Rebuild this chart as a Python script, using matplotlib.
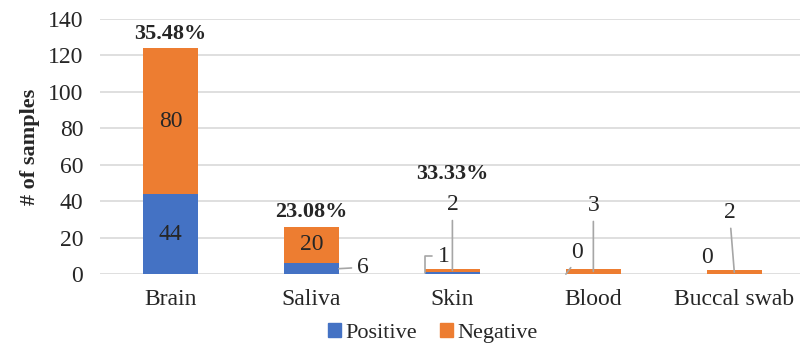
import matplotlib
matplotlib.use("Agg")
import matplotlib.pyplot as plt
import numpy as np
from matplotlib.patches import Patch

plt.rcParams["font.family"] = ["Liberation Serif", "DejaVu Serif"]

categories = ["Brain", "Saliva", "Skin", "Blood", "Buccal swab"]
positive = [44, 6, 1, 0, 0]
negative = [80, 20, 2, 3, 2]

BLUE = "#4472C4"
ORANGE = "#ED7D31"
TEXT = "#262626"
GRID = "#D9D9D9"
LEADER = "#A6A6A6"
PX = 72 / 100  # pixels -> points at dpi 100
FS = 17

# label placement per category: (kind, dx, dy) in pixels from the anchor, None = inside the bar
pos_label = [None, ("right", 24, 1), ("elbow", 19, 17), ("diag", 11, 22), ("free", -27, 17)]
neg_label = [None, None, ("up", 0, 66), ("up", 0, 66), ("up", -4, 60)]
pct_offset = [14, 15, 95, None, None]

fig = plt.figure(figsize=(8.0, 3.51), dpi=100)
ax = fig.add_axes([0.125, 0.219, 0.881, 0.727])

x = np.arange(len(categories))
w = 0.39
pos = np.array(positive)
neg = np.array(negative)

ax.bar(x, pos, w, color=BLUE, zorder=2)
ax.bar(x, neg, w, bottom=pos, color=ORANGE, zorder=2)

ax.set_xlim(-0.5, len(categories) - 0.5)
ax.set_ylim(0, 140)
ax.set_yticks(range(0, 141, 20))
ax.set_xticks(x, categories)
ax.grid(axis="y", color=GRID, linewidth=1.2, zorder=0)
for s in ax.spines.values():
    s.set_visible(False)
ax.tick_params(length=0, labelsize=FS, colors=TEXT)
ax.tick_params(axis="y", pad=12)
ax.tick_params(axis="x", pad=11)
ax.set_ylabel("# of samples", fontsize=16, fontweight="bold", color=TEXT, labelpad=6)

line_kw = dict(arrowstyle="-", color=LEADER, lw=1.2, shrinkA=2, shrinkB=0)


def place(text, xy, spec):
    kind, dx, dy = spec
    offs = (dx * PX, dy * PX)
    common = dict(textcoords="offset points", fontsize=FS, color=TEXT,
                  ha="center", va="center", zorder=4)
    if kind == "free":
        ax.annotate(text, xy=xy, xytext=offs, **common)
    elif kind == "right":
        ax.annotate(text, xy=xy, xytext=offs,
                    arrowprops=dict(line_kw, relpos=(0, 0.5)), **common)
    elif kind == "elbow":
        ax.annotate(text, xy=xy, xytext=offs,
                    arrowprops=dict(line_kw, relpos=(0, 0.5),
                                    connectionstyle="angle,angleA=0,angleB=90,rad=0"),
                    **common)
    elif kind == "diag":
        ax.annotate(text, xy=xy, xytext=offs,
                    arrowprops=dict(line_kw, relpos=(0.3, 0)), **common)
    else:
        ax.annotate(text, xy=xy, xytext=offs,
                    arrowprops=dict(line_kw, relpos=(0.5, 0)), **common)


for i in range(len(categories)):
    p, n = pos[i], neg[i]
    # positive segment label
    spec = pos_label[i]
    if spec is None:
        ax.text(x[i], p / 2, str(p), ha="center", va="center", fontsize=FS, color=TEXT, zorder=4)
    else:
        kind = spec[0]
        if kind == "right":
            anchor = (x[i] + w / 2, p / 2)
        elif kind in ("elbow", "diag"):
            anchor = (x[i] - w / 2, p / 2)
        else:
            anchor = (x[i], p / 2)
        place(str(p), anchor, spec)
    # negative segment label
    spec = neg_label[i]
    if spec is None:
        ax.text(x[i], p + n / 2, str(n), ha="center", va="center", fontsize=FS, color=TEXT, zorder=4)
    else:
        place(str(n), (x[i], p + n / 2), spec)
    # share of positive samples above the bar
    if pct_offset[i] is not None:
        pct = 100 * p / (p + n)
        ax.annotate(f"{pct:.2f}%", xy=(x[i], p + n), xytext=(0, pct_offset[i] * PX),
                    textcoords="offset points", ha="center", va="center",
                    fontsize=16, fontweight="bold", color=TEXT)

handles = [Patch(color=BLUE, label="Positive"), Patch(color=ORANGE, label="Negative")]
fig.legend(handles=handles, loc="center", bbox_to_anchor=(0.541, 0.051), ncol=2,
           frameon=False, fontsize=16, handlelength=0.6, handleheight=0.6,
           handletextpad=0.2, columnspacing=1.0, labelcolor=TEXT)

fig.savefig("out.png", dpi=100)
